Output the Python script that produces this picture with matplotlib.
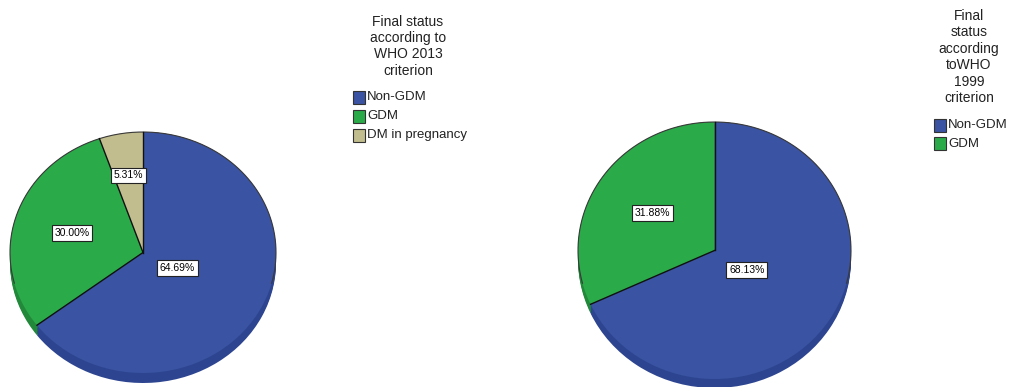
import numpy as np
import matplotlib
matplotlib.use("Agg")
import matplotlib.pyplot as plt
from matplotlib.patches import Rectangle

plt.rcParams['font.family'] = ['Liberation Sans', 'DejaVu Sans']

# ---- data ----
cats_2013 = ["Non-GDM", "GDM", "DM in pregnancy"]
vals_2013 = [64.69, 30.00, 5.31]
cats_1999 = ["Non-GDM", "GDM"]
vals_1999 = [68.13, 31.88]
title_2013 = "Final status\naccording to\nWHO 2013\ncriterion"
title_1999 = "Final\nstatus\naccording\ntoWHO\n1999\ncriterion"

# ---- style ----
top_colors = {"Non-GDM": "#3A53A2", "GDM": "#2BAA4A", "DM in pregnancy": "#C2BD8F"}
side_colors = {"Non-GDM": "#2D4590", "GDM": "#22893B", "DM in pregnancy": "#9E9870"}

W, H = 1010, 387
fig = plt.figure(figsize=(W / 100, H / 100), dpi=100)
fig.patch.set_facecolor("white")


def draw_pie(cx, cy, rx, ry, depth, cats, vals, label_r):
    m = 4  # pixel margin
    d = depth / ry
    mx, my = m / rx, m / ry
    left = (cx - rx - m) / W
    bottom = 1 - (cy + ry + depth + m) / H
    ax = fig.add_axes([left, bottom, (2 * rx + 2 * m) / W,
                       (2 * ry + depth + 2 * m) / H])
    tops = [top_colors[c] for c in cats]
    sides = [side_colors[c] for c in cats]
    # side (depth) layers
    for k in np.linspace(d, 0.0, 8):
        ax.pie(vals, colors=sides, startangle=90, counterclock=False,
               center=(0, -k), radius=1.0,
               wedgeprops=dict(linewidth=0, edgecolor="none"))
    # top face
    wedges, _ = ax.pie(vals, colors=tops, startangle=90, counterclock=False,
                       center=(0, 0), radius=1.0,
                       wedgeprops=dict(linewidth=0, edgecolor="none"))
    # outer outline on the upper part of the rim
    t = np.deg2rad(np.linspace(-15, 195, 300))
    ax.plot(np.cos(t), np.sin(t), color="#3a3a3a", lw=0.8, solid_capstyle="butt")
    # radial separators
    for w in wedges:
        a = np.deg2rad(w.theta1)
        ax.plot([0, np.cos(a)], [0, np.sin(a)], color="#111111", lw=1.0)
    ax.set_aspect("auto")
    ax.set_xlim(-1 - mx, 1 + mx)
    ax.set_ylim(-1 - d - my, 1 + my)
    ax.axis("off")
    for w, v, r in zip(wedges, vals, label_r):
        ang = np.deg2rad((w.theta1 + w.theta2) / 2)
        ax.text(r * np.cos(ang), r * np.sin(ang), f"{v:.2f}%",
                ha="center", va="center", fontsize=7.5, color="black",
                bbox=dict(boxstyle="square,pad=0.25", fc="white",
                          ec="#222222", lw=0.8))
    return ax


draw_pie(143, 252.5, 133, 120.5, 10, cats_2013, vals_2013, [0.29, 0.56, 0.65])
draw_pie(714.5, 250.5, 136.5, 128.5, 9, cats_1999, vals_1999, [0.28, 0.54])


def draw_legend(title, tx, ty, cats, sx, rows_y, tfs, lfs, lsp):
    fig.text(tx / W, 1 - ty / H, title, ha="center", va="top",
             multialignment="center", fontsize=tfs, linespacing=lsp,
             color="#222222")
    for c, yy in zip(cats, rows_y):
        fig.add_artist(Rectangle((sx / W, 1 - (yy + 7) / H), 12 / W, 13 / H,
                                 transform=fig.transFigure,
                                 facecolor=top_colors[c], edgecolor="#333333",
                                 lw=0.8))
        fig.text((sx + 14) / W, 1 - yy / H, c, ha="left", va="center",
                 fontsize=lfs, color="#222222")


draw_legend(title_2013, 408, 15, cats_2013, 353, [97, 116, 135], 10, 9.5, 1.2)
draw_legend(title_1999, 969, 9, cats_1999, 934, [125, 143.5], 10, 9.5, 1.22)

fig.savefig("out.png", dpi=100)
